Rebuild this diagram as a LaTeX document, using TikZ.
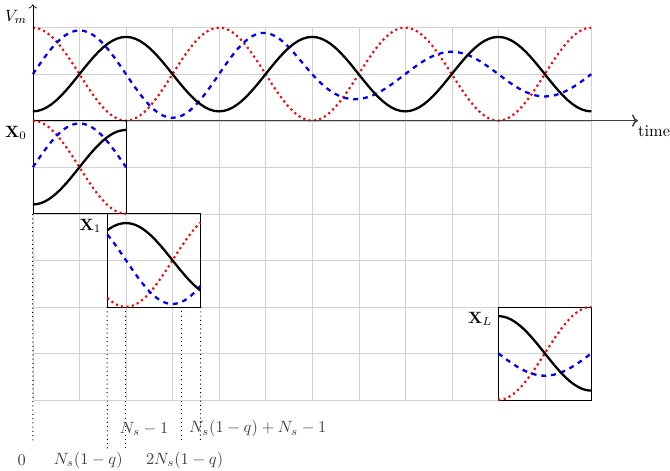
\documentclass[tikz,border=0pt]{standalone}
\usepackage{xcolor}
\usepackage{tikz}
\usetikzlibrary{positioning, arrows.meta}

\begin{document}
\begin{tikzpicture}[
  declare function={vk(\t)=1-0.8*cos(90*\t);
                    vr(\t)=1+cos(90*\t);
                    vb(\t)=1+(0.71+0.23*tanh(6-\t))*sin(90*\t);},
  gridline/.style={gray!35, very thin},
  wavek/.style={black, line width=1.4pt},
  waver/.style={red, dotted, line width=1.3pt},
  waveb/.style={blue, dashed, line width=1.4pt},
  win/.style={draw, inner sep=0pt, minimum width=2cm, minimum height=2cm},
  tick/.style={dotted, line width=0.6pt},
  ticklab/.style={text=black!75}
]
  \useasboundingbox (-0.707,-7.52) rectangle (13.69,2.593);
  \draw[gridline] (0,-6) grid (12,2);

  % the three signals
  \draw[waver] plot[domain=0:12, samples=121] (\x, {vr(\x)});
  \draw[waveb] plot[domain=0:12, samples=121] (\x, {vb(\x)});
  \draw[wavek] plot[domain=0:12, samples=121] (\x, {vk(\x)});

  % axes
  \coordinate (o) at (0,0);
  \coordinate (vtop) at (0,2.5);
  \coordinate (tend) at (13,0);
  \draw[->, black!75, line width=0.9pt] (o) -- (tend);
  \draw[->] (o) -- (vtop);
  \node[below left] (vm) at (vtop) {$V_m$};
  \node[anchor=north west, inner sep=0pt, yshift=-3pt] (tlab) at (tend) {time};

  % windows
  \node[win] (x0) at (1,-1) {};
  \node[win] (x1) at (2.6,-3) {};
  \node[win] (xl) at (11,-5) {};
  \node[anchor=north east] (lx0) at (x0.north west) {$\mathbf{X}_0$};
  \node[anchor=north east] (lx1) at (x1.north west) {$\mathbf{X}_1$};
  \node[anchor=north east] (lxl) at (xl.north west) {$\mathbf{X}_L$};

  \draw[waver] plot[domain=0:2, samples=31] (\x, {vr(\x)-2});
  \draw[waveb] plot[domain=0:2, samples=31] (\x, {vb(\x)-2});
  \draw[wavek] plot[domain=0:2, samples=31] (\x, {vk(\x)-2});
  \draw[waver] plot[domain=1.6:3.6, samples=31] (\x, {vr(\x)-4});
  \draw[waveb] plot[domain=1.6:3.6, samples=31] (\x, {vb(\x)-4});
  \draw[wavek] plot[domain=1.6:3.6, samples=31] (\x, {vk(\x)-4});
  \draw[waver] plot[domain=10:12, samples=31] (\x, {vr(\x)-6});
  \draw[waveb] plot[domain=10:12, samples=31] (\x, {vb(\x)-6});
  \draw[wavek] plot[domain=10:12, samples=31] (\x, {vk(\x)-6});

  % sample indices
  \coordinate (d0) at (0,-6.9);
  \coordinate (d1) at (1.6,-7.05);
  \coordinate (d2) at (2,-7.05);
  \coordinate (d3) at (3.2,-6.9);
  \coordinate (d4) at (3.6,-6.9);
  \draw[tick] (x0.south west) -- (d0);
  \draw[tick] (x1.south west) -- (d1);
  \draw[tick] (d2 |- x1.south) -- (d2);
  \draw[tick] (d3 |- x1.south) -- (d3);
  \draw[tick] (x1.south east) -- (d4);

  \node[ticklab] (n0) at (-0.24,-7.3) {$0$};
  \node[ticklab] (n1) at (1.19,-7.3) {$N_s(1-q)$};
  \node[ticklab] (n2) at (3.26,-7.3) {$2N_s(1-q)$};
  \node[ticklab] (n3) at (2.39,-6.62) {$N_s-1$};
  \node[ticklab] (n4) at (4.83,-6.62) {$N_s(1-q)+N_s-1$};
\end{tikzpicture}
\end{document}
